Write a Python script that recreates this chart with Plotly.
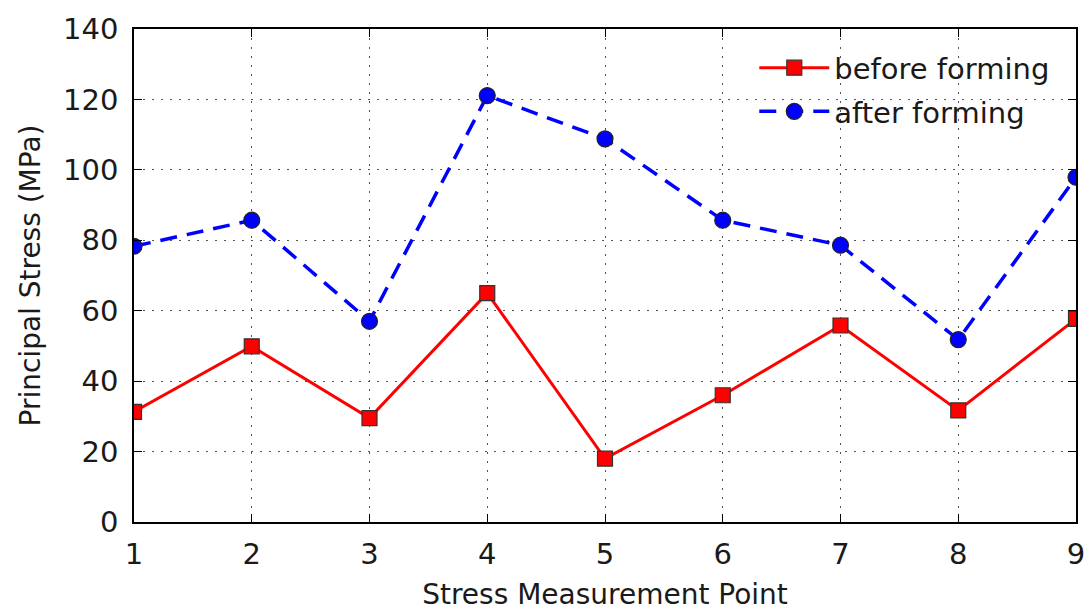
import plotly.graph_objects as go

points = [1, 2, 3, 4, 5, 6, 7, 8, 9]
before_forming = [31.3, 49.9, 29.5, 65.0, 18.0, 36.0, 55.8, 31.7, 57.7]
after_forming = [78.3, 85.7, 57.0, 121.1, 108.8, 85.7, 78.6, 51.8, 97.9]
x_ticks = [1, 2, 3, 4, 5, 6, 7, 8, 9]
y_ticks = [0, 20, 40, 60, 80, 100, 120, 140]

FONT = "DejaVu Sans"
TXT = "#1a1a1a"

fig = go.Figure()
fig.add_trace(go.Scatter(
    x=points, y=before_forming, name="before forming",
    mode="lines+markers", legendgroup="a",
    line=dict(color="#ff0000", width=3),
    marker=dict(symbol="square", size=15, color="#ff0000",
                line=dict(color="#333333", width=1.2)),
))
fig.add_trace(go.Scatter(
    x=points, y=after_forming, name="after forming",
    mode="lines+markers", legendgroup="b",
    line=dict(color="#0000ff", width=3.5, dash="17px,10px"),
    marker=dict(symbol="circle", size=16, color="#0000ff",
                line=dict(color="#222222", width=1.2)),
))

axis_common = dict(
    showline=True, linecolor="black", linewidth=1.5, mirror="ticks",
    ticks="inside", ticklen=8, tickcolor="black", tickwidth=1,
    showgrid=True, gridcolor="#555555", griddash="2px,7px", gridwidth=1.2,
    zeroline=False, automargin=False, ticklabeloverflow="allow",
    tickfont=dict(family=FONT, size=29, color=TXT),
)

fig.update_xaxes(
    range=[1, 9], tickvals=x_ticks, ticktext=[str(v) for v in x_ticks],
    title=dict(text="Stress Measurement Point", font=dict(family=FONT, size=28, color=TXT), standoff=15),
    ticklabelstandoff=5,
    **axis_common,
)
fig.update_yaxes(
    range=[0, 140], tickvals=y_ticks, ticktext=[str(v) for v in y_ticks],
    title=dict(text="Principal Stress (MPa)", font=dict(family=FONT, size=28, color=TXT), standoff=14),
    ticklabelstandoff=8,
    **axis_common,
)

fig.update_layout(
    width=1084, height=615,
    margin=dict(l=134, r=8, t=29, b=93),
    paper_bgcolor="white", plot_bgcolor="white",
    font=dict(family=FONT, color=TXT),
    showlegend=True,
    legend=dict(
        x=0.978, y=0.973, xanchor="right", yanchor="top",
        bgcolor="rgba(255,255,255,0)", borderwidth=0,
        font=dict(family=FONT, size=29, color=TXT),
        itemwidth=70, traceorder="grouped", tracegroupgap=3,
    ),
)

fig.write_html(
    "out.html",
    config={"displayModeBar": False},
    post_script="document.body.style.margin='0';document.body.style.overflow='hidden';",
)
